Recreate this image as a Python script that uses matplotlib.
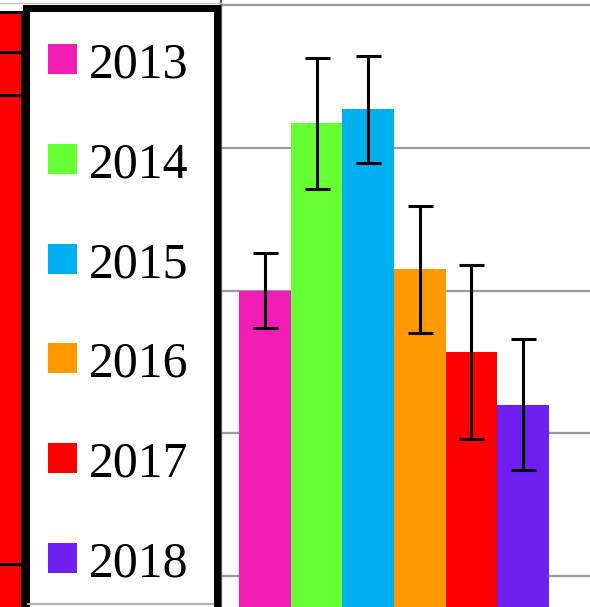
import matplotlib
matplotlib.use('Agg')
import matplotlib.pyplot as plt
from matplotlib.patches import Rectangle

# yearly means with their spread
years = ['2013', '2014', '2015', '2016', '2017', '2018']
means = [30.0, 41.7, 42.7, 31.5, 25.7, 22.0]
errors = [2.6, 4.6, 3.75, 4.45, 6.1, 4.6]
colors = ['#F01EB4', '#66FF33', '#00B0F0', '#FF9900', '#FF0000', '#6E20F0']

# neighbouring stacked column (only its right edge shows)
stack_values = [93, 469, 43, 40]
stack_base = -50

W, H = 590, 607
fig = plt.figure(figsize=(W / 100, H / 100), dpi=100)
plt.rcParams['font.family'] = ['Liberation Serif', 'DejaVu Serif']

# bar panel
ax = fig.add_axes([221 / W, 0, (W - 221) / W, 1])
x = list(range(len(years)))
ax.bar(x, means, width=1.0, color=colors, zorder=2)
ax.errorbar(x, means, yerr=errors, fmt='none', ecolor='black',
            elinewidth=2.2, capsize=9, capthick=2.2, zorder=3)
ax.set_xlim(-0.849, 6.295)
ax.set_ylim(7.83, 50.35)
ax.set_yticks([10, 20, 30, 40, 50])
ax.yaxis.grid(True, color='#9a9a9a', linewidth=1.6, zorder=0)
ax.tick_params(left=False, bottom=False, labelleft=False, labelbottom=False)
for side in ['top', 'right', 'bottom']:
    ax.spines[side].set_visible(False)
ax.spines['left'].set_color('#555555')
ax.spines['left'].set_linewidth(1.6)

# stacked column on the far left
sax = fig.add_axes([0, 0, 40 / W, 1])
sax.set_xlim(0, 40)
sax.set_ylim(0, H)
bottom = stack_base
for v in stack_values:
    sax.bar(-8, v, width=60, bottom=bottom, align='center',
            color='#FF0000', edgecolor='black', linewidth=2.2)
    bottom += v
sax.axis('off')

# legend panel drawn in pixel coordinates
lax = fig.add_axes([0, 0, 1, 1], facecolor='none')
lax.set_xlim(0, W)
lax.set_ylim(H, 0)
lax.axis('off')
lax.plot([0, 221], [3, 3], color='#c0c0c0', linewidth=1.0, zorder=1)
lax.add_patch(Rectangle((25.5, 8), 191.5, 640, facecolor='white',
                        edgecolor='black', linewidth=5.0, zorder=1))
lax.plot([28, 213], [604, 604], color='#b0b0b0', linewidth=1.5, zorder=2)
for i, (yr, c) in enumerate(zip(years, colors)):
    cy = 59 + 99.8 * i
    lax.add_patch(Rectangle((48, cy - 15), 29, 30, facecolor=c,
                            edgecolor='none', zorder=2))
    lax.text(89, cy + 18.5, yr, fontsize=35.8, color='black',
             va='baseline', ha='left', zorder=3)

fig.savefig('out.png', dpi=100)
